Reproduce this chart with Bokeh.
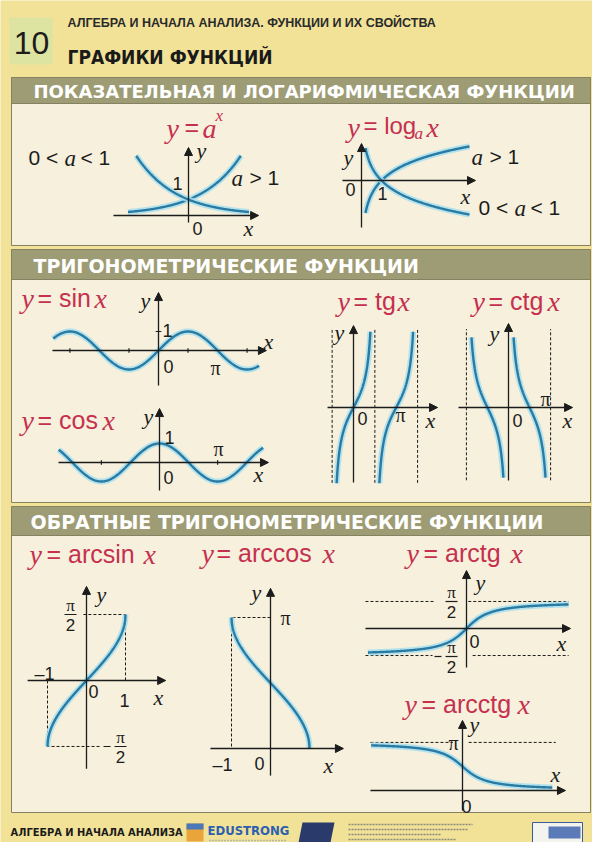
import numpy as np
from bokeh.plotting import figure
from bokeh.models import Range1d, Arrow, NormalHead
from bokeh.core.properties import value
from bokeh.embed import file_html
from bokeh.resources import INLINE

# ---------------- data (functions, bases, domains, labels) ----------------
SHEET_NO = "10"
HEADER_TOP = "АЛГЕБРА И НАЧАЛА АНАЛИЗА. ФУНКЦИИ И ИХ СВОЙСТВА"
HEADER_MAIN = "ГРАФИКИ ФУНКЦИЙ"
PANEL_TITLES = ["ПОКАЗАТЕЛЬНАЯ И ЛОГАРИФМИЧЕСКАЯ ФУНКЦИИ",
                "ТРИГОНОМЕТРИЧЕСКИЕ ФУНКЦИИ",
                "ОБРАТНЫЕ ТРИГОНОМЕТРИЧЕСКИЕ ФУНКЦИИ"]
FOOTER = "АЛГЕБРА И НАЧАЛА АНАЛИЗА"
BRAND = "EDUSTRONG"

EXP_BASES = [2.0, 0.5]
EXP_DOMAINS = [(-2.2, 1.9), (-1.9, 2.2)]
LOG_BASES = [2.0, 0.5]
LOG_DOMAIN = (0.2, 5.4)
SIN_DOMAIN = (-5.6, 5.35)
SIN_TICKS = [-3 * np.pi / 2, -np.pi / 2, np.pi / 2, 3 * np.pi / 2]
COS_DOMAIN = (-5.45, 5.6)
COS_TICKS = [-np.pi, np.pi]
TG_BRANCHES = [(-1.24, 1.24), (np.pi - 1.24, np.pi + 1.24)]
TG_ASYMPTOTES = [-np.pi / 2, np.pi / 2, 3 * np.pi / 2]
CTG_BRANCHES = [(-np.pi + 0.38, -0.38), (0.38, np.pi - 0.38)]
CTG_ASYMPTOTES = [-np.pi, np.pi]
ARC_DOMAIN = (-1.0, 1.0)
ARCTG_DOMAIN = (-5.6, 5.8)
ARCCTG_DOMAIN = (-5.2, 5.1)

# ---------------- layout (pixel frames: origin x, origin y, px/unit x, px/unit y) ----
FR = {
    "exp": (188, 215, 27.5, 16), "log": (361, 180, 20, 14),
    "sin": (158, 350, 18.8, 19), "cos": (159, 462, 18.5, 19),
    "tg": (353, 407, 13.6, 26), "ctg": (508, 407, 13.4, 28),
    "asin": (86, 680, 39, 42), "acos": (270, 748, 39, 41.7),
    "atg": (466, 628, 17.6, 17.2), "actg": (462, 790, 17.6, 15.3),
}
AXES = {  # math-unit extents of the x axis and y axis
    "exp": ((-2.73, 2.55), (-0.44, 4.25)), "log": ((-0.95, 5.7), (-3.36, 2.64)),
    "sin": ((-5.64, 5.74), (-1.84, 3.05)), "cos": ((-5.46, 5.89), (-1.47, 2.84)),
    "tg": ((-1.91, 6.18), (-2.88, 3.15)), "ctg": ((-3.73, 4.78), (-2.61, 3.0)),
    "asin": ((-1.51, 2.03), (-2.10, 2.24)), "acos": ((-1.54, 1.87), (-0.65, 3.84)),
    "atg": ((-5.74, 5.91), (-2.27, 3.37)), "actg": ((-5.23, 5.85), (-1.31, 4.58)),
}

PAGE = "#f2e298"
BODY = "#f6f0dc"
BAND = "#9e9c74"
EDGE = "#858262"
INK = "#1c1c1c"
RED = "#c5304f"
CURVE = "#2a7aa2"
GLOW = "#a6dff0"
SANS = "Liberation Sans"
SERIF = "Liberation Serif"
BOLD = "DejaVu Sans"
NARROW = "'DejaVu Sans Condensed', 'Liberation Sans Narrow', sans-serif"

p = figure(width=592, height=842, x_range=Range1d(0, 592), y_range=Range1d(842, 0),
           output_backend="svg", toolbar_location=None, min_border=0)
p.axis.visible = False
p.grid.visible = False
p.outline_line_color = None
p.background_fill_color = PAGE
p.border_fill_color = PAGE


def T(name, x, y):
    ox, oy, sx, sy = FR[name]
    return ox + np.asarray(x, float) * sx, oy - np.asarray(y, float) * sy


def t(x, y, s, size=19, font=SANS, style="normal", color=INK, align="left", baseline="middle"):
    p.text(x=[x], y=[y], text=[s], text_font=value(font), text_font_size=f"{size}px",
           text_font_style=style, text_color=color, text_align=align, text_baseline=baseline)


def var(x, y, s, size=22, color=INK, align="left"):
    t(x, y, s, size=size, font=SERIF, style="italic", color=color, align=align)


def arrow(x0, y0, x1, y1):
    p.add_layout(Arrow(end=NormalHead(size=8, fill_color=INK, line_color=INK, line_width=1),
                       x_start=x0, y_start=y0, x_end=x1, y_end=y1,
                       line_color=INK, line_width=1.3))


def axes(name):
    (xa, xb), (ya, yb) = AXES[name]
    x0, y0 = T(name, [xa, xb], [0, 0])
    arrow(x0[0], y0[0], x0[1], y0[1])
    x1, y1 = T(name, [0, 0], [ya, yb])
    arrow(x1[0], y1[0], x1[1], y1[1])


def curve(name, xs, ys):
    px, py = T(name, xs, ys)
    p.line(px, py, line_color=GLOW, line_width=6, line_alpha=0.85)
    p.line(px, py, line_color=CURVE, line_width=2.4)


def dashed(name, xs, ys):
    px, py = T(name, xs, ys)
    p.line(px, py, line_color=INK, line_width=1, line_dash="3 2")


def frac(x, y, size=17, minus=False):
    t(x, y - 9, "π", size=size, font=SERIF, align="center")
    p.line([x - 6, x + 6], [y, y], line_color=INK, line_width=1.2)
    t(x, y + 10, "2", size=size, align="center")
    if minus:
        p.line([x - 17, x - 10], [y, y], line_color=INK, line_width=1.2)


def title(x, y, name, fsize=25):
    # pieces: "y", "= name", "x"
    var(x[0], y + 1, "y", size=fsize + 3, color=RED)
    t(x[1], y, "= " + name, size=fsize, color=RED)
    var(x[2], y + 1, "x", size=fsize + 3, color=RED)


# ---------------- header ----------------
p.quad(left=[9], right=[52], top=[17], bottom=[64], fill_color="#dde3a0", line_color=None)
t(31, 42, SHEET_NO, size=32, align="center")
t(67, 22, HEADER_TOP, size=12.5, font=SANS, style="bold", color="#2a2a2a")
t(67, 56, HEADER_MAIN, size=19, font=NARROW, style="bold", color="#1a1a1a")

# ---------------- panels ----------------
PANELS = [(77, 103, 245), (249, 279, 502), (506, 535, 812)]
TITLE_X = [33, 33, 30]
TITLE_SIZE = [18, 19, 19]
for (top, band, bot), ttl, tx, ts in zip(PANELS, PANEL_TITLES, TITLE_X, TITLE_SIZE):
    p.quad(left=[11], right=[590], top=[top], bottom=[bot], fill_color=BODY, line_color=EDGE, line_width=1)
    p.quad(left=[11], right=[590], top=[top], bottom=[band], fill_color=BAND, line_color=EDGE, line_width=1)
    t(tx, (top + band) / 2 + 1, ttl, size=ts, font=BOLD, style="bold", color="white")

# ---------------- panel 1: exponential & logarithm ----------------
axes("exp")
for a, (lo, hi) in zip(EXP_BASES, EXP_DOMAINS):
    xs = np.linspace(lo, hi, 200)
    curve("exp", xs, a ** xs)
var(166, 128, "y", size=28, color=RED)
t(184, 126, "=", size=25, color=RED)
var(202, 128, "a", size=28, color=RED)
var(215, 115, "x", size=17, color=RED)
t(28, 157, "0 <", size=21)
var(64, 158, "a", size=23)
t(80, 157, "< 1", size=21)
var(231, 178, "a", size=23)
t(249, 177, "> 1", size=21)
t(177, 183, "1", size=18, align="center")
t(197, 228, "0", size=18, align="center")
var(248, 228, "x", size=22, align="center")
var(201, 150, "y", size=22, align="center")

axes("log")
for a in LOG_BASES:
    xs = np.linspace(*LOG_DOMAIN, 200)
    curve("log", xs, np.log(xs) / np.log(a))
var(347, 127, "y", size=28, color=RED)
t(363, 125, "= log", size=24, color=RED)
var(414, 133, "a", size=17, color=RED)
var(426, 127, "x", size=28, color=RED)
var(348, 157, "y", size=22, align="center")
t(350, 189, "0", size=18, align="center")
t(382, 193, "1", size=18, align="center")
var(465, 196, "x", size=22, align="center")
var(471, 157, "a", size=23)
t(489, 156, "> 1", size=21)
t(478, 207, "0 <", size=21)
var(514, 208, "a", size=23)
t(530, 207, "< 1", size=21)

# ---------------- panel 2: trigonometric ----------------
axes("sin")
xs = np.linspace(*SIN_DOMAIN, 300)
curve("sin", xs, np.sin(xs))
for k in SIN_TICKS:
    px, py = T("sin", [k, k], [-0.12, 0.12])
    p.line(px, py, line_color=INK, line_width=1.2)
px, py = T("sin", [-0.15, 0.15], [1, 1])
p.line(px, py, line_color=INK, line_width=1.2)
title([21, 37, 94], 297, "sin")
var(145, 300, "y", align="center")
t(167, 330, "1", size=18, align="center")
t(168, 366, "0", size=18, align="center")
t(215, 367, "π", size=20, font=SERIF, align="center")
var(268, 341, "x", align="center")

axes("cos")
xs = np.linspace(*COS_DOMAIN, 300)
curve("cos", xs, np.cos(xs))
for k in COS_TICKS:
    px, py = T("cos", [k, k], [-0.12, 0.12])
    p.line(px, py, line_color=INK, line_width=1.2)
title([21, 37, 102], 419, "cos")
var(148, 416, "y", align="center")
t(169, 437, "1", size=18, align="center")
t(218, 448, "π", size=20, font=SERIF, align="center")
t(168, 477, "0", size=18, align="center")
var(258, 474, "x", align="center")

axes("tg")
for k in TG_ASYMPTOTES:
    dashed("tg", [k, k], [-2.9, 3.05])
for lo, hi in TG_BRANCHES:
    xs = np.linspace(lo, hi, 200)
    curve("tg", xs, np.tan(xs))
title([337, 353, 397], 300, "tg")
var(339, 332, "y", align="center")
t(362, 418, "0", size=18, align="center")
t(400, 414, "π", size=20, font=SERIF, align="center")
var(430, 420, "x", align="center")

axes("ctg")
for k in CTG_ASYMPTOTES:
    dashed("ctg", [k, k], [-2.6, 2.8])
for lo, hi in CTG_BRANCHES:
    xs = np.linspace(lo, hi, 200)
    curve("ctg", xs, 1 / np.tan(xs))
title([472, 488, 547], 300, "ctg")
var(494, 333, "y", align="center")
t(545, 398, "π", size=20, font=SERIF, align="center")
t(517, 420, "0", size=18, align="center")
var(567, 420, "x", align="center")

# ---------------- panel 3: inverse trigonometric ----------------
axes("asin")
dashed("asin", [-0.08, 1, 1], [np.pi / 2, np.pi / 2, 0])
dashed("asin", [-1, -1, 0.35], [0, -np.pi / 2, -np.pi / 2])
xs = np.linspace(*ARC_DOMAIN, 300)
curve("asin", xs, np.arcsin(xs))
title([29, 46, 143], 553, "arcsin")
var(101, 594, "y", align="center")
frac(70, 614)
t(44, 673, "–1", size=18, align="center")
t(93, 691, "0", size=18, align="center")
t(124, 700, "1", size=18, align="center")
var(158, 697, "x", align="center")
frac(120, 746, minus=True)

axes("acos")
dashed("acos", [0, -1, -1], [np.pi, np.pi, 0])
curve("acos", xs, np.arccos(xs))
title([201, 216, 322], 552, "arccos")
var(256, 592, "y", align="center")
t(285, 617, "π", size=20, font=SERIF, align="center")
t(222, 764, "–1", size=18, align="center")
t(259, 763, "0", size=18, align="center")
var(328, 765, "x", align="center")

axes("atg")
dashed("atg", [-5.74, -1.87], [np.pi / 2] * 2)
dashed("atg", [0.1, 5.8], [np.pi / 2] * 2)
dashed("atg", [-5.74, -1.93], [-np.pi / 2] * 2)
dashed("atg", [0.35, 5.8], [-np.pi / 2] * 2)
xs = np.linspace(*ARCTG_DOMAIN, 300)
curve("atg", xs, np.arctan(xs))
title([406, 423, 510], 552, "arctg")
var(480, 582, "y", align="center")
frac(451, 601)
frac(451, 656, minus=True)
t(474, 641, "0", size=18, align="center")
var(561, 643, "x", align="center")

axes("actg")
dashed("actg", [-5.23, -0.55], [np.pi] * 2)
dashed("actg", [0.35, 5.3], [np.pi] * 2)
xs = np.linspace(*ARCCTG_DOMAIN, 300)
curve("actg", xs, np.pi / 2 - np.arctan(xs))
title([404, 421, 517], 703, "arcctg")
var(474, 724, "y", align="center")
t(453, 742, "π", size=20, font=SERIF, align="center")
var(555, 774, "x", align="center")
t(466, 806, "0", size=18, align="center")

# ---------------- footer ----------------
t(10, 832, FOOTER, size=11, font=NARROW, style="bold", color="#1a1a1a")
p.quad(left=[186], right=[203], top=[823], bottom=[841], fill_color="#e9a43a", line_color=None)
p.quad(left=[186], right=[203], top=[823], bottom=[829], fill_color="#4a78b8", line_color=None)
t(207, 830, BRAND, size=13, font=NARROW, style="bold", color="#2c5fb0")
p.line([209, 286], [840, 840], line_color="#7a8fb8", line_width=1.5, line_dash="1 2")
p.patch([302, 334, 330, 298], [822, 822, 842, 842], fill_color="#2a3a6a", line_color=None)
for yy, x1 in zip([824, 829, 834, 839], [472, 468, 440, 455]):
    p.line([348, x1], [yy, yy], line_color="#8a8a7a", line_width=1.6, line_dash="2 1")
p.quad(left=[532], right=[582], top=[822], bottom=[842], fill_color="#f4f4ee", line_color="#3a5a9a", line_width=1)
p.quad(left=[548], right=[580], top=[826], bottom=[838], fill_color="#5a7ab8", line_color=None)

open("out.html", "w").write(file_html(p, INLINE))
